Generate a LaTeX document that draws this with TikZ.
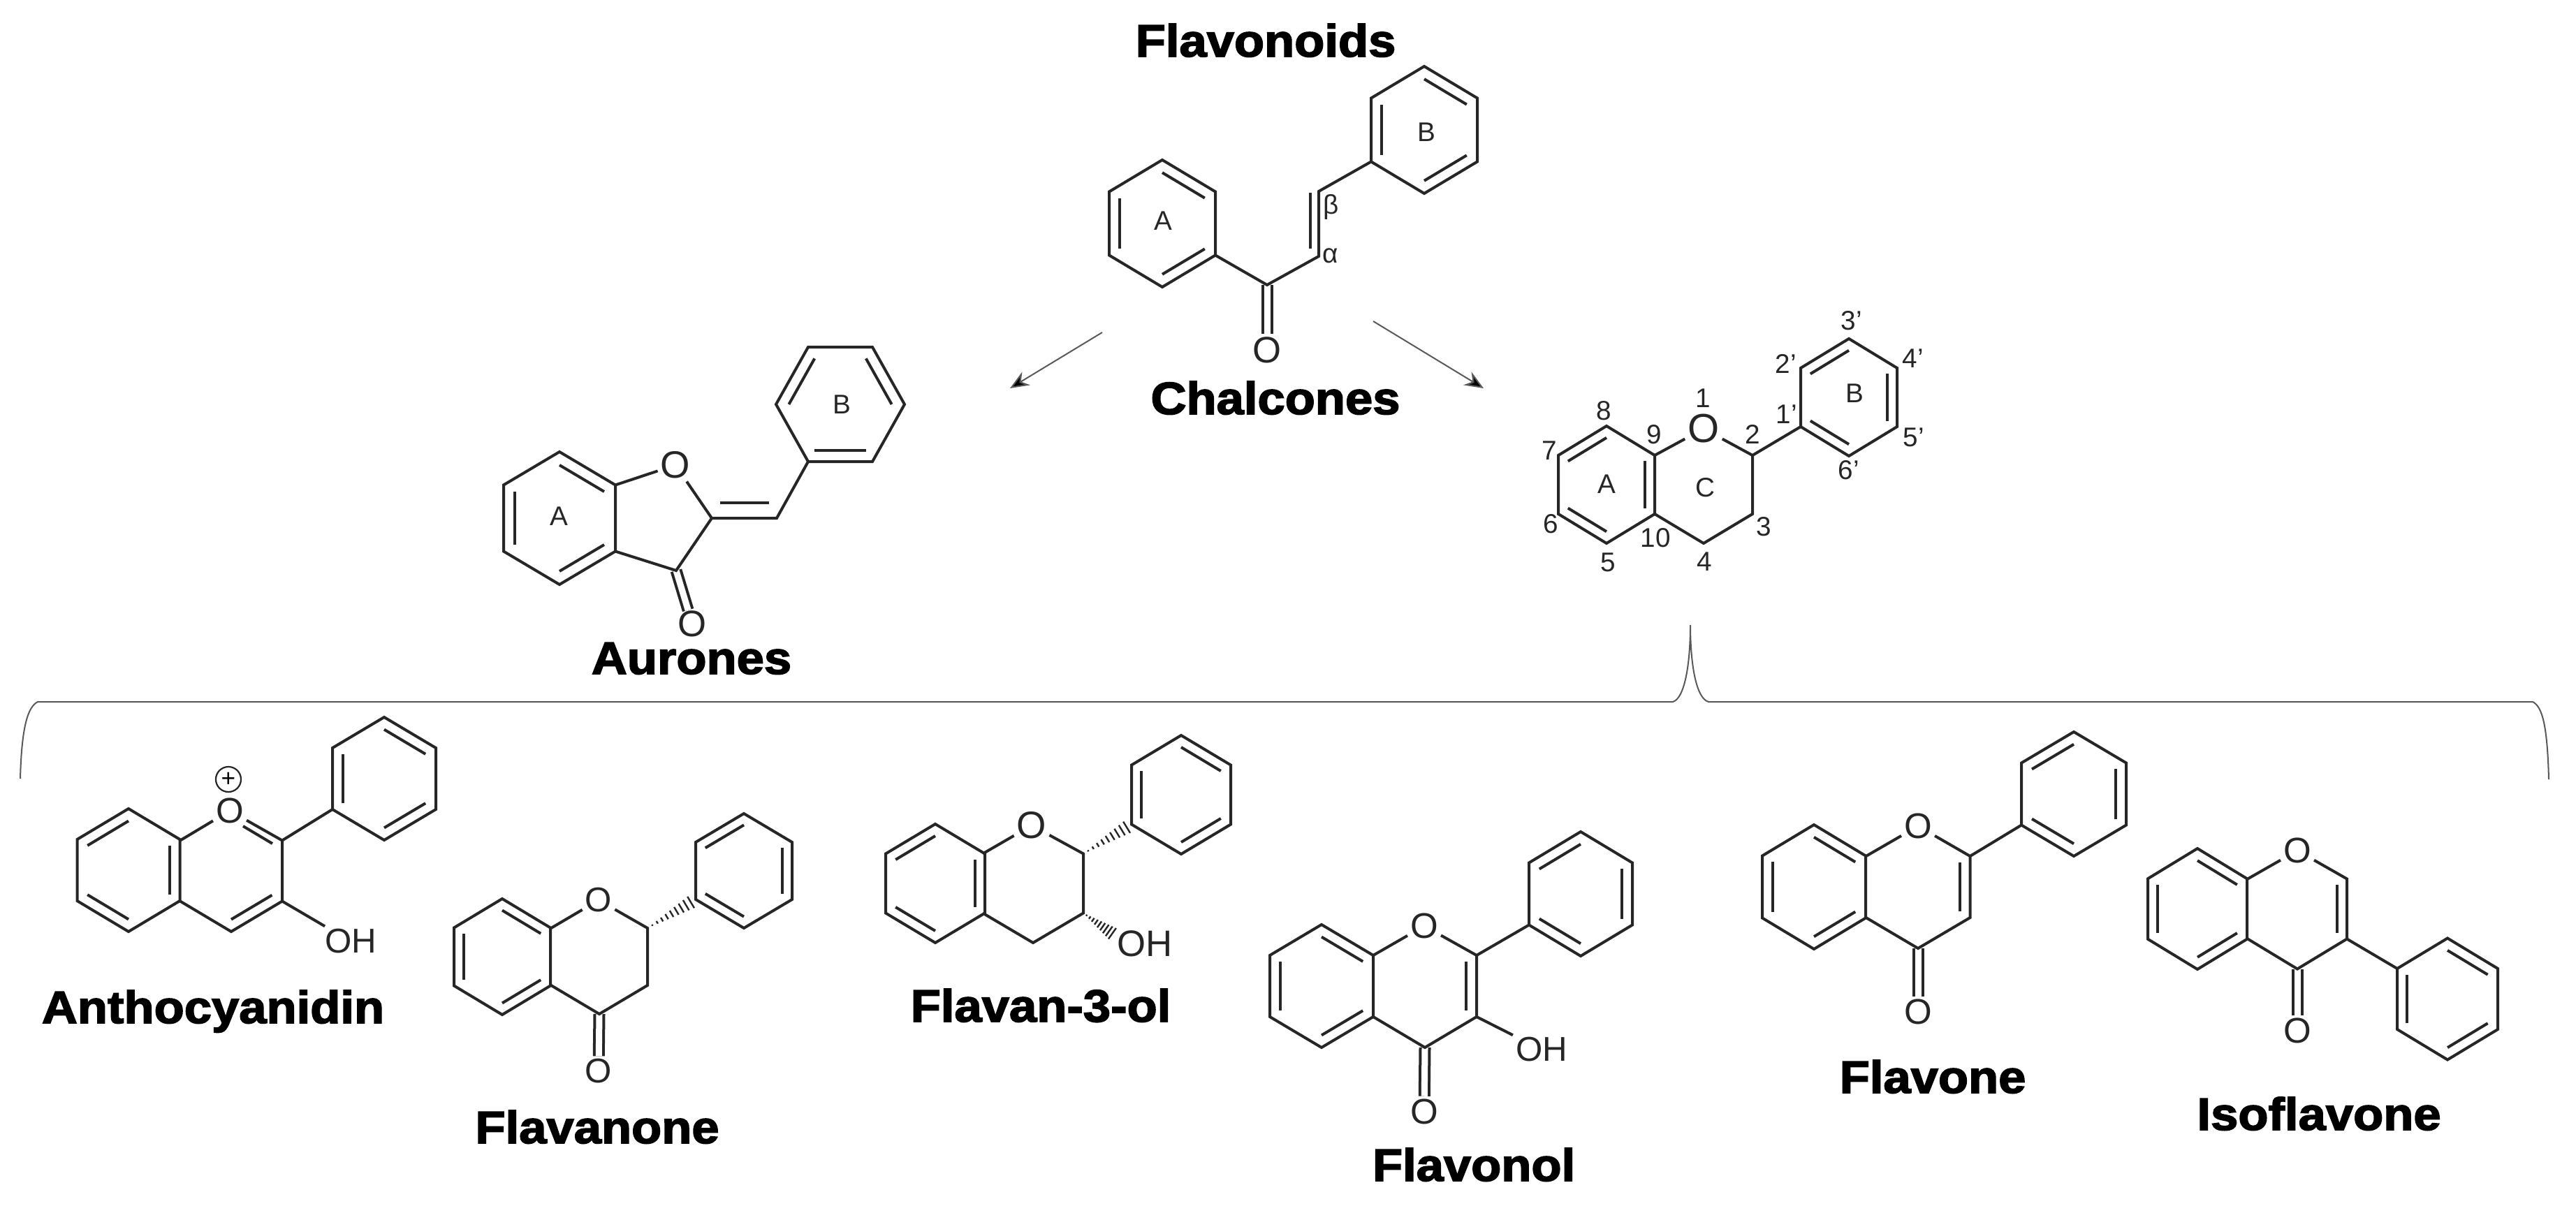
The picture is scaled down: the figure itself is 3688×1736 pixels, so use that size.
\documentclass[tikz,border=0pt]{standalone}
\usepackage{fontspec}
\setmainfont{Liberation Sans}
\newfontfamily\heavyfont[BoldFeatures={FakeBold=2.6,FakeStretch=1.085}]{Liberation Sans}
\usetikzlibrary{positioning,calc,arrows.meta}

\newcommand{\ringat}[5]{%
  \coordinate (#1c) at (#2,#3);
  \coordinate (#1v1) at (#2,#3-#5);
  \coordinate (#1v2) at (#2+#4,#3-#5/2);
  \coordinate (#1v3) at (#2+#4,#3+#5/2);
  \coordinate (#1v4) at (#2,#3+#5);
  \coordinate (#1v5) at (#2-#4,#3+#5/2);
  \coordinate (#1v6) at (#2-#4,#3-#5/2);
}
\newcommand{\ringdraw}[1]{\draw[bond] (#1v1) -- (#1v2) -- (#1v3) -- (#1v4) -- (#1v5) -- (#1v6) -- cycle;}
\newcommand{\ringin}[2]{\foreach \a/\b in {#2} {\draw[bond] ($(#1v\a)!.2!(#1c)$) -- ($(#1v\b)!.2!(#1c)$);}}
\newcommand{\pyran}[2]{\draw[bond] (#1v6) -- (#2) -- (#1v2) -- (#1v3) -- (#1v4) -- (#1v5);}
\newcommand{\hashbond}[2]{\foreach \t in {.1,.2,...,.95} {\draw[hash] ($(#1)!\t!(#2)!3*\t pt!90:(#2)$) -- ($(#1)!\t!(#2)!3*\t pt!-90:(#2)$);}}

\begin{document}
\begin{tikzpicture}[
    x=0.01cm, y=-0.01cm,
    bond/.style={line width=0.04cm, draw=black!85},
    dbond/.style={bond, double, double distance=0.09cm},
    hash/.style={line width=0.024cm, draw=black!85},
    atom/.style={font=\fontsize{#1}{#1}\selectfont, inner sep=1pt, text=black!85},
    atom/.default=15,
    tag/.style={font=\fontsize{11}{11}\selectfont, inner sep=0pt, text=black!85},
    title/.style={font=\fontsize{18.5}{20}\selectfont\heavyfont\bfseries, anchor=base, inner sep=0pt},
    thinline/.style={line width=0.02cm, draw=black!65},
    arrowline/.style={thinline, -{Stealth[length=0.27cm,width=0.22cm,fill=black]}}
    ]
        \useasboundingbox (0,0) rectangle (3688,1736);

        %Titles
        \node[title] (tFlavonoids)    at (1812,81)   {Flavonoids};
        \node[title] (tChalcones)     at (1826,593)  {Chalcones};
        \node[title] (tAurones)       at (990,965)   {Aurones};
        \node[title] (tAntho)         at (305,1465)  {Anthocyanidin};
        \node[title] (tFlavanone)     at (855,1637)  {Flavanone};
        \node[title] (tFlavanol)      at (1490,1463) {Flavan-3-ol};
        \node[title] (tFlavonol)      at (2110,1691) {Flavonol};
        \node[title] (tFlavone)       at (2767,1565) {Flavone};
        \node[title] (tIso)           at (3320,1618) {Isoflavone};

        %Chalcone
        \ringat{chA}{1664}{320}{76}{91}
        \ringat{chB}{2039}{186}{76}{91}
        \coordinate (chCO) at (1814,408);
        \coordinate (chAl) at (1888,367);
        \coordinate (chBe) at (1888,274);
        \coordinate (chAli) at (1876,356);
        \coordinate (chBei) at (1876,276);
        \node[atom] (chO) at (1814,501) {O};
        \node[tag] (chLa) at (1665,316) {A};
        \node[tag] (chLb) at (2042,189) {B};
        \node[tag] (chLbe) at (1906,296) {β};
        \node[tag] (chLal) at (1905,366) {α};
        \draw[dbond] (chCO) -- (chO);
        \ringdraw{chA} \ringdraw{chB}
        \ringin{chA}{1/2,3/4,5/6} \ringin{chB}{1/2,3/4,5/6}
        \draw[bond] (chAv3) -- (chCO) -- (chAl) -- (chBe) -- (chBv5);
        \draw[bond] (chAli) -- (chBei);

        %Arrows
        \coordinate (arLs) at (1578,476);
        \coordinate (arLe) at (1446,556);
        \coordinate (arRs) at (1966,460);
        \coordinate (arRe) at (2124,556);
        \draw[arrowline] (arLs) -- (arLe);
        \draw[arrowline] (arRs) -- (arRe);

        %Aurone
        \ringat{auA}{801}{742}{80}{95}
        \foreach \n/\x/\y in {1/1157/497,2/1249/497,3/1295/579,4/1249/661,5/1157/661,6/1111/579}
            \coordinate (auBv\n) at (\x,\y);
        \coordinate (auBc) at (1203,579);
        \coordinate (auC2) at (1019,742);
        \coordinate (auC3) at (968,817);
        \coordinate (auCH) at (1112,742);
        \coordinate (auC2i) at (1031,720);
        \coordinate (auCHi) at (1101,720);
        \node[atom=15.5] (auO1) at (967,666) {O};
        \node[atom=15, inner sep=0pt] (auO2) at (991,893) {O};
        \node[tag] (auLa) at (800,739) {A};
        \node[tag] (auLb) at (1205,579) {B};
        \draw[dbond] (auC3) -- (auO2);
        \ringdraw{auA} \ringdraw{auB}
        \ringin{auA}{1/2,3/4,5/6} \ringin{auB}{6/1,2/3,4/5}
        \draw[bond] (auAv2) -- (auO1) -- (auC2) -- (auC3) -- (auAv3);
        \draw[bond] (auC2) -- (auCH) -- (auBv5);
        \draw[bond] (auC2i) -- (auCHi);

        %Flavan skeleton
        \ringat{flA}{2300}{694}{69}{84}
        \ringat{flC}{2439}{694}{70}{84}
        \ringat{flB}{2647}{569}{69}{84}
        \node[atom=16.5] (flO) at (2439,614) {O};
        \ringdraw{flA} \pyran{flC}{flO} \ringdraw{flB}
        \ringin{flA}{6/1,5/4,2/3} \ringin{flB}{6/1,2/3,5/4}
        \draw[bond] (flCv2) -- (flBv5);
        \foreach \t/\x/\y [count=\i] in {1/2438/570,8/2296/588,9/2368/622,7/2218/645,6/2220/750,5/2302/805,
                10/2370/770,4/2440/804,3/2525/754,2/2509/622,1'/2558/593,2'/2557/521,
                3'/2651/459,4'/2739/513,5'/2740/626,6'/2647/673,A/2300/693,C/2441/698,B/2655/563}
            \node[tag] (flN\i) at (\x,\y) {\t};

        %Brace
        \coordinate (brL) at (29,1115);
        \coordinate (brLt) at (54,1005);
        \coordinate (brMl) at (2395,1005);
        \coordinate (brTip) at (2420,895);
        \coordinate (brMr) at (2446,1005);
        \coordinate (brRt) at (3626,1005);
        \coordinate (brR) at (3649,1116);
        \draw[thinline] (brL) .. controls (31,1040) and (40,1012) .. (brLt) -- (brMl)
            .. controls (2412,1000) and (2420,950) .. (brTip)
            .. controls (2420,950) and (2428,1000) .. (brMr) -- (brRt)
            .. controls (3640,1012) and (3647,1040) .. (brR);

        %Anthocyanidin
        \ringat{anA}{184}{1246}{73.5}{88}
        \ringat{anC}{331}{1247}{73}{87}
        \ringat{anB}{550}{1115}{74}{88}
        \coordinate (anOi) at (348,1183);
        \coordinate (an2i) at (390,1208);
        \node[atom=14.5] (anO) at (329,1161) {O};
        \node[circle, draw=black!85, line width=0.022cm, minimum size=0.36cm, inner sep=0pt,
            font=\fontsize{10}{10}\selectfont] (anPlus) at (327,1116) {+};
        \node[atom=14] (anOH) at (502,1348) {OH};
        \ringdraw{anA} \pyran{anC}{anO} \ringdraw{anB}
        \ringin{anA}{6/1,5/4,2/3} \ringin{anC}{3/4} \ringin{anB}{5/6,1/2,3/4}
        \draw[bond] (anOi) -- (an2i);
        \draw[bond] (anCv2) -- (anBv5);
        \draw[bond] (anCv3) -- (anOH);

        %Flavanone
        \ringat{faA}{719}{1370}{69}{83}
        \ringat{faC}{858}{1370}{69}{82}
        \ringat{faB}{1065}{1247}{69}{82}
        \node[atom=14] (faO1) at (857,1289) {O};
        \node[atom=14] (faO2) at (857,1534) {O};
        \draw[dbond] (faCv4) -- (faO2);
        \ringdraw{faA} \pyran{faC}{faO1} \ringdraw{faB}
        \ringin{faA}{1/2,3/4,5/6} \ringin{faB}{6/1,2/3,5/4}
        \hashbond{faCv2}{faBv5}

        %Flavan-3-ol
        \ringat{foA}{1339}{1265}{71}{85}
        \ringat{foC}{1479}{1265}{72}{85}
        \ringat{foB}{1691}{1138}{71}{85}
        \coordinate (foH) at (1597,1340);
        \node[atom=15.5] (foO) at (1477,1182) {O};
        \node[atom=15] (foOH) at (1639,1351) {OH};
        \ringdraw{foA} \pyran{foC}{foO} \ringdraw{foB}
        \ringin{foA}{6/1,5/4,2/3} \ringin{foB}{5/6,1/2,3/4}
        \hashbond{foCv2}{foBv5}
        \hashbond{foCv3}{foH}

        %Flavonol
        \ringat{fnA}{1892}{1412}{74}{88}
        \ringat{fnC}{2040}{1412}{74}{88}
        \ringat{fnB}{2263}{1280}{74}{89}
        \node[atom=14.5] (fnO1) at (2039,1326) {O};
        \node[atom=14.5] (fnO2) at (2039,1592) {O};
        \node[atom=14] (fnOH) at (2207,1503) {OH};
        \draw[dbond] (fnCv4) -- (fnO2);
        \ringdraw{fnA} \pyran{fnC}{fnO1} \ringdraw{fnB}
        \ringin{fnA}{1/2,3/4,5/6} \ringin{fnC}{2/3} \ringin{fnB}{6/1,2/3,5/4}
        \draw[bond] (fnCv2) -- (fnBv5);
        \draw[bond] (fnCv3) -- (fnOH);

        %Flavone
        \ringat{fvA}{2597}{1270}{74}{89}
        \ringat{fvC}{2746}{1270}{74.5}{88}
        \ringat{fvB}{2969}{1137}{75}{89}
        \node[atom=14.5] (fvO1) at (2746,1183) {O};
        \node[atom=14.5] (fvO2) at (2746,1449) {O};
        \draw[dbond] (fvCv4) -- (fvO2);
        \ringdraw{fvA} \pyran{fvC}{fvO1} \ringdraw{fvB}
        \ringin{fvA}{1/2,3/4,5/6} \ringin{fvC}{2/3} \ringin{fvB}{6/1,2/3,5/4}
        \draw[bond] (fvCv2) -- (fvBv5);

        %Isoflavone
        \ringat{isA}{3146}{1301.5}{71}{86.5}
        \ringat{isC}{3289}{1301.5}{71}{86}
        \ringat{isB}{3504}{1430.5}{72}{87}
        \node[atom=14.5] (isO1) at (3289,1218) {O};
        \node[atom=14.5] (isO2) at (3289,1476) {O};
        \draw[dbond] (isCv4) -- (isO2);
        \ringdraw{isA} \pyran{isC}{isO1} \ringdraw{isB}
        \ringin{isA}{1/2,3/4,5/6} \ringin{isC}{2/3} \ringin{isB}{1/2,3/4,5/6}
        \draw[bond] (isCv3) -- (isBv6);
\end{tikzpicture}
\end{document}
